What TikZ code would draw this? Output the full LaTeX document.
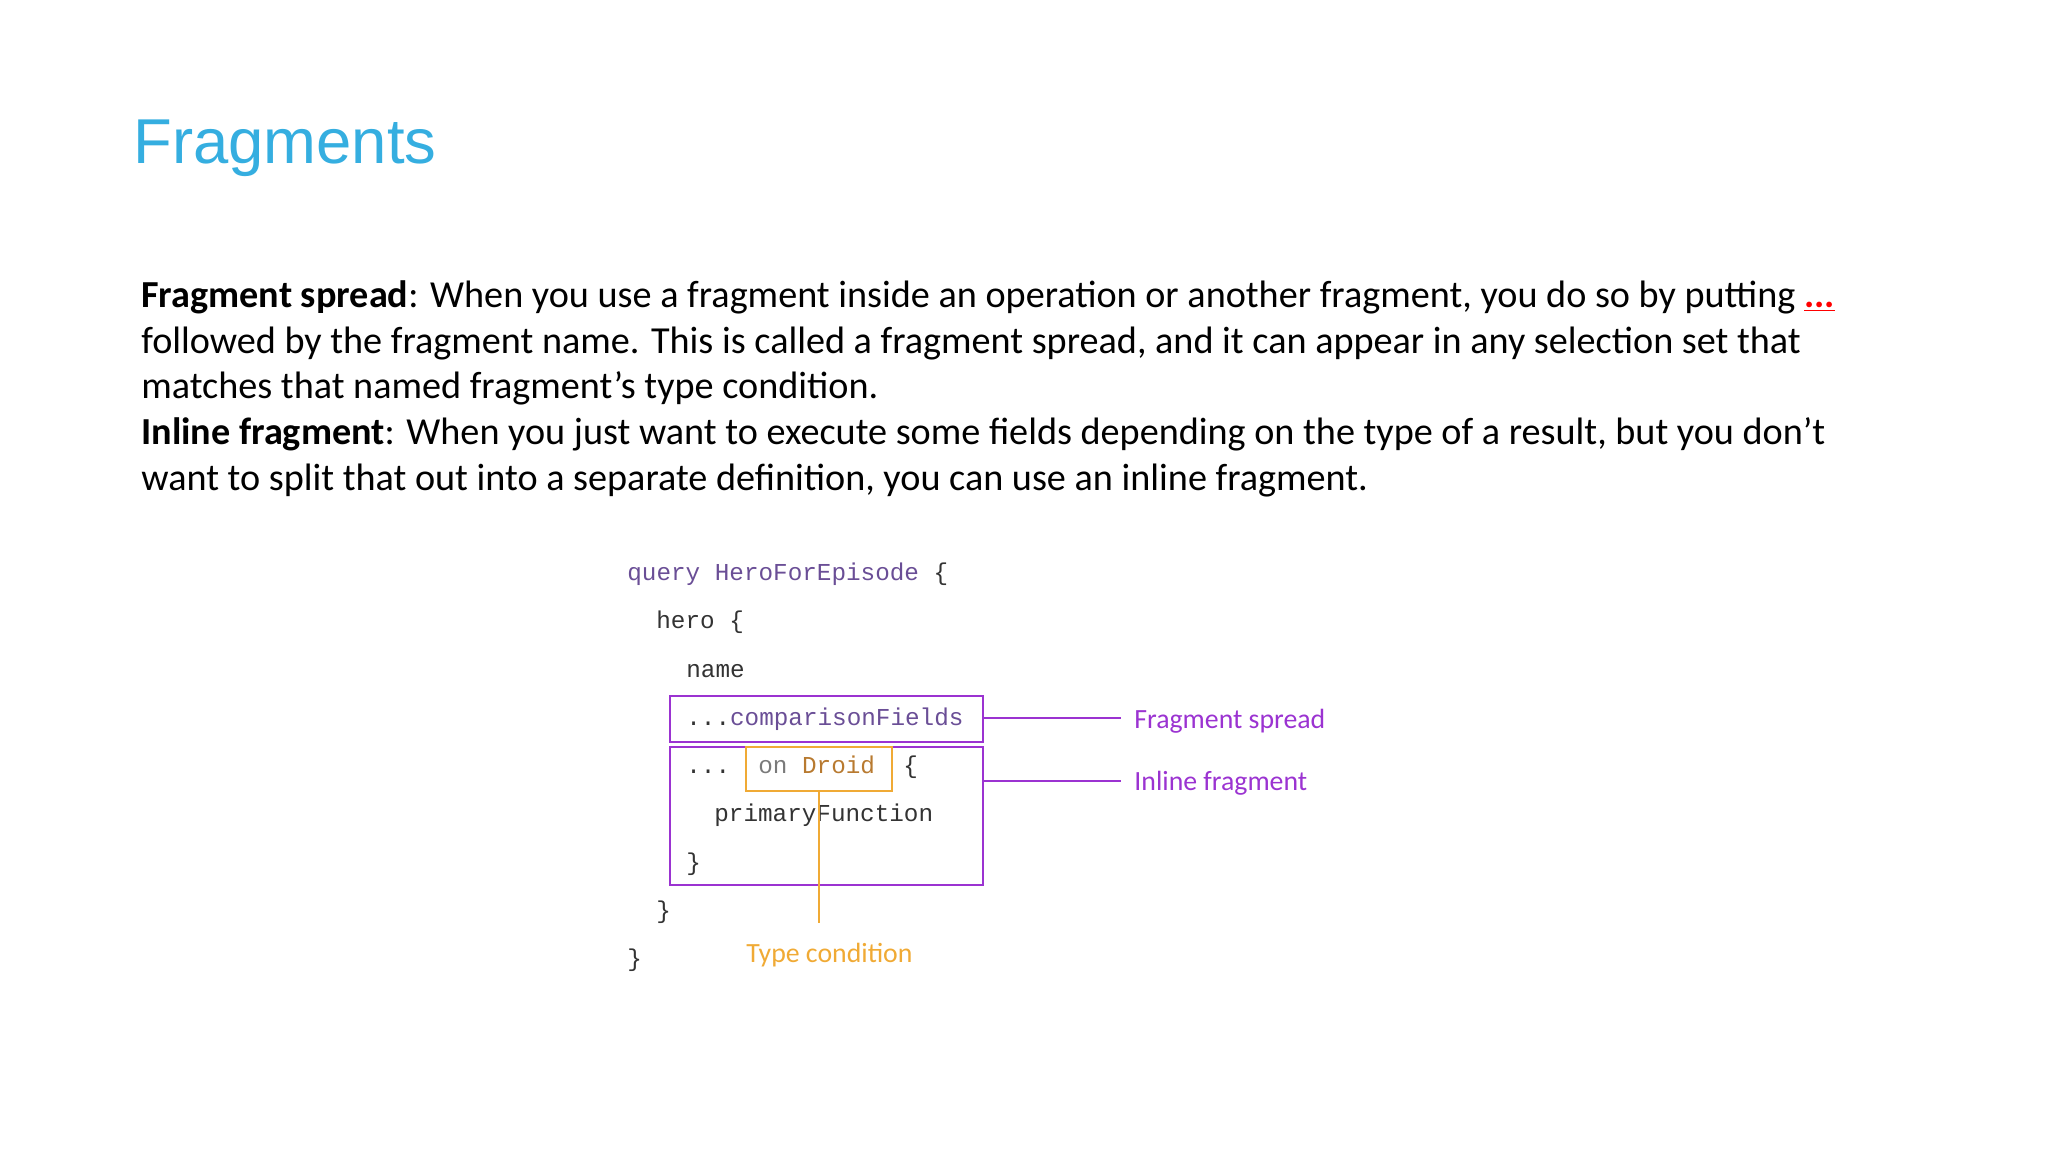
\documentclass[tikz,border=0pt]{standalone}
\usepackage{fontspec}
\setmainfont{Carlito}
\newfontfamily\codefont{Liberation Mono}
\newfontfamily\titlefont{Liberation Sans}
\definecolor{titleblue}{HTML}{35AEE0}
\definecolor{fragpurple}{HTML}{9B33D1}
\definecolor{typeorange}{HTML}{F0AA35}
\definecolor{qpurple}{HTML}{6A4E96}
\definecolor{droidbrown}{HTML}{B87A30}
\definecolor{codegray}{HTML}{333333}
\definecolor{ongray}{HTML}{7A7A7A}
\begin{document}
\begin{tikzpicture}[x=0.5pt,y=-0.5pt,
  body/.style={anchor=base west,inner sep=0,font=\fontsize{19.1}{23}\selectfont},
  code/.style={anchor=base west,inner sep=0,font=\codefont\fontsize{12.15}{15}\selectfont,text=codegray},
  lbl/.style={anchor=base west,inner sep=0,font=\fontsize{13.9}{16}\selectfont},
  fbox/.style={draw=fragpurple,line width=1.2pt},
  obox/.style={draw=typeorange,line width=1.2pt}]
\useasboundingbox (0,0) rectangle (2048,1152);
\node[anchor=base west,inner sep=0,font=\titlefont\fontsize{31.7}{36}\selectfont,text=titleblue] (title) at (133,163) {Fragments};
\node[body] (l1) at (141,307) {\textbf{Fragment spread}: When you use a fragment inside an operation or another fragment, you do so by putting \textcolor{red}{\underline{\textbf{...}}}};
\node[body] (l2) at (141,353) {followed by the fragment name. This is called a fragment spread, and it can appear in any selection set that};
\node[body] (l3) at (141,398) {matches that named fragment’s type condition.};
\node[body] (l4) at (141,444) {\textbf{Inline fragment}: When you just want to execute some fields depending on the type of a result, but you don’t};
\node[body] (l5) at (141,490) {want to split that out into a separate definition, you can use an inline fragment.};
% code
\node[code,text=qpurple] (c1) at (627,580) {query HeroForEpisode \textcolor{codegray}{\{}};
\node[code] (c2) at (656,628) {hero \{};
\node[code] (c3) at (686,677) {name};
\node[code] (c4) at (686,725) {...\textcolor{qpurple}{comparisonFields}};
\node[code] (c5) at (686,773) {...};
\node[code] (c5b) at (758,773) {\textcolor{ongray}{on} \textcolor{droidbrown}{Droid}};
\node[code] (c5c) at (903,773) {\{};
\node[code] (c6) at (714,821) {primaryFunction};
\node[code] (c7) at (686,870) {\}};
\node[code] (c8) at (656,918) {\}};
\node[code] (c9) at (627,966) {\}};
% boxes
\draw[fbox] (670,696) rectangle (983,742);
\draw[fbox] (670,747) rectangle (983,885);
\draw[obox] (746,747) rectangle (892,791);
\coordinate (sp) at (983,718);
\coordinate (ip) at (983,781);
\coordinate (ot) at (819,791);
\coordinate (ob) at (819,923);
\node[lbl,text=fragpurple] (fs) at (1134,728) {Fragment spread};
\node[lbl,text=fragpurple] (if) at (1134,790) {Inline fragment};
\node[lbl,text=typeorange] (tc) at (746,962) {Type condition};
\draw[fragpurple,line width=1.2pt] (sp) -- (1121,718);
\draw[fragpurple,line width=1.2pt] (ip) -- (1121,781);
\draw[typeorange,line width=1.2pt] (ot) -- (ob);
\end{tikzpicture}
\end{document}
